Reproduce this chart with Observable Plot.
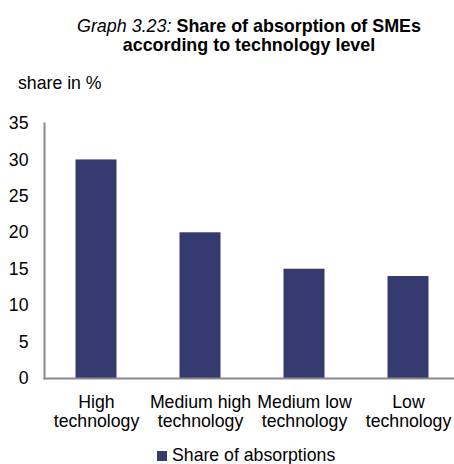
<!DOCTYPE html>
<html><head><meta charset="utf-8">
<script src="https://cdn.jsdelivr.net/npm/d3@7"></script>
<script src="https://cdn.jsdelivr.net/npm/@observablehq/plot@0.6"></script>
<style>
body{margin:0;background:#fff;font-family:"Liberation Sans",Arial,sans-serif;}
#wrap{position:relative;width:454px;height:464px;overflow:hidden;}
.t{position:absolute;font-size:17.7px;line-height:19px;color:#000;white-space:nowrap;}
</style></head><body>
<div id="wrap">
<div class="t" style="top:17px;left:44px;width:410px;text-align:center;font-size:17.9px;"><i>Graph 3.23:</i> <b>Share of absorption of SMEs<br>according to technology level</b></div>
<div class="t" style="top:74px;left:18px;">share in %</div>
<div id="chart" style="position:absolute;top:100px;left:0;"></div>
<div class="t" style="top:446px;left:157px;"><span style="display:inline-block;width:10px;height:10px;background:#363B6F;margin-right:5px;vertical-align:0px"></span>Share of absorptions</div>
</div>
<script>
const categories = ["High technology","Medium high technology","Medium low technology","Low technology"];
const tickLabels = ["High\ntechnology","Medium high\ntechnology","Medium low\ntechnology","Low\ntechnology"];
const shares = [30, 20, 15, 14];
const yTicks = [0, 5, 10, 15, 20, 25, 30, 35];

const data = categories.map((c, i) => ({cat: c, v: shares[i]}));
const barColor = "#363B6F";
const axisColor = "#898989";

const chart = Plot.plot({
  width: 454, height: 340,
  marginLeft: 44, marginRight: -6, marginTop: 23, marginBottom: 62,
  style: {fontFamily: "Liberation Sans, Arial, sans-serif", fontSize: "17.7px", color: "#000", background: "transparent", overflow: "visible"},
  x: {domain: categories, range: [44, 460], padding: 0},
  y: {domain: [0, 35]},
  marks: [
    Plot.barY(data, {x: "cat", y: "v", fill: barColor, insetLeft: 31.5, insetRight: 31.5}),
    Plot.axisY({ticks: yTicks, tickSize: 0, tickPadding: 16, fontSize: 17.7, label: null}),
    Plot.axisX({tickSize: 0, tickPadding: 16, tickFormat: d => tickLabels[categories.indexOf(d)], lineHeight: 19/17.7, fontSize: 17.7, label: null}),
    Plot.frame({anchor: "left", stroke: axisColor, strokeWidth: 2}),
    Plot.frame({anchor: "bottom", stroke: axisColor, strokeWidth: 2})
  ]
});
document.getElementById("chart").appendChild(chart);
</script>
</body></html>
